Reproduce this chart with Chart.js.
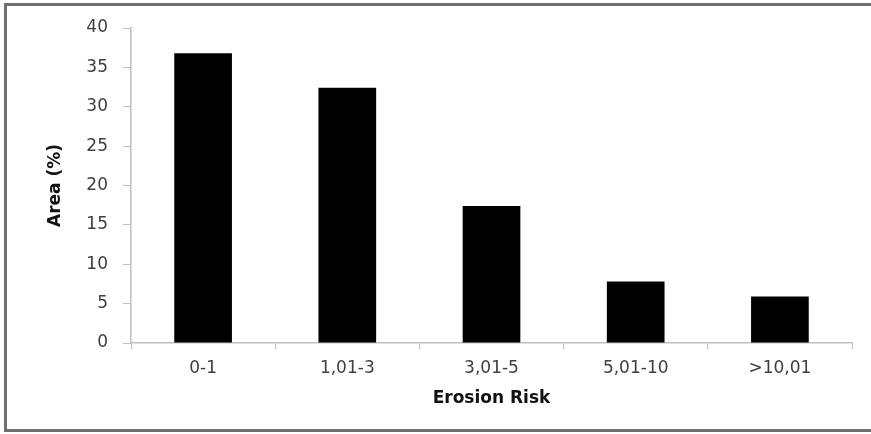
<!DOCTYPE html>
<html>
<head>
<meta charset="utf-8">
<script src="https://cdn.jsdelivr.net/npm/chart.js@4/dist/chart.umd.min.js"></script>
<style>
  html, body { margin: 0; padding: 0; background: #ffffff; overflow: hidden; }
  canvas { display: block; }
</style>
</head>
<body>
<canvas id="c" width="871" height="434"></canvas>
<script>
const categories = ["0-1", "1,01-3", "3,01-5", "5,01-10", ">10,01"];
const areaValues = [36.8, 32.4, 17.4, 7.8, 5.9];
const yTickValues = [0, 5, 10, 15, 20, 25, 30, 35, 40];
const xTitle = "Erosion Risk";
const yTitle = "Area (%)";

const framePlugin = {
  id: 'frame',
  beforeDraw(chart) {
    const ctx = chart.ctx;
    ctx.save();
    ctx.fillStyle = '#ffffff';
    ctx.fillRect(0, 0, chart.width, chart.height);
    ctx.strokeStyle = '#6f6f6f';
    ctx.lineWidth = 3;
    ctx.beginPath();
    ctx.moveTo(chart.width + 5, 4.5);
    ctx.lineTo(5.5, 4.5);
    ctx.lineTo(5.5, 430.5);
    ctx.lineTo(chart.width + 5, 430.5);
    ctx.stroke();
    ctx.restore();
  }
};

new Chart(document.getElementById('c'), {
  type: 'bar',
  data: {
    labels: categories,
    datasets: [{
      data: areaValues,
      backgroundColor: '#000000',
      borderWidth: 0,
      barPercentage: 0.4,
      categoryPercentage: 1.0
    }]
  },
  plugins: [framePlugin],
  options: {
    responsive: false,
    animation: false,
    devicePixelRatio: 1,
    layout: { padding: { top: 28, right: 19, left: 0, bottom: 0 } },
    plugins: { legend: { display: false }, tooltip: { enabled: false } },
    scales: {
      x: {
        afterFit: s => { s.height = 91; },
        grid: { drawOnChartArea: false, tickLength: 6, color: '#bfbfbf', offset: true },
        border: { color: '#bfbfbf', width: 1.5 },
        ticks: { color: '#404040', padding: 9, font: { family: 'DejaVu Sans', size: 17 } },
        title: { display: true, text: xTitle, color: '#111111',
                 padding: { top: 0, bottom: 25 },
                 font: { family: 'DejaVu Sans', size: 17, weight: 'bold' } }
      },
      y: {
        min: 0, max: 40,
        afterFit: s => { s.width = 131; },
        afterBuildTicks: s => { s.ticks = yTickValues.map(v => ({ value: v })); },
        grid: { drawOnChartArea: false, tickLength: 8, color: '#bfbfbf' },
        border: { color: '#bfbfbf', width: 1.5 },
        ticks: { color: '#404040', padding: 15, font: { family: 'DejaVu Sans', size: 17 } },
        title: { display: true, text: yTitle, color: '#111111',
                 padding: { top: 45, bottom: 0 },
                 font: { family: 'DejaVu Sans', size: 17, weight: 'bold' } }
      }
    }
  }
});
</script>
</body>
</html>
